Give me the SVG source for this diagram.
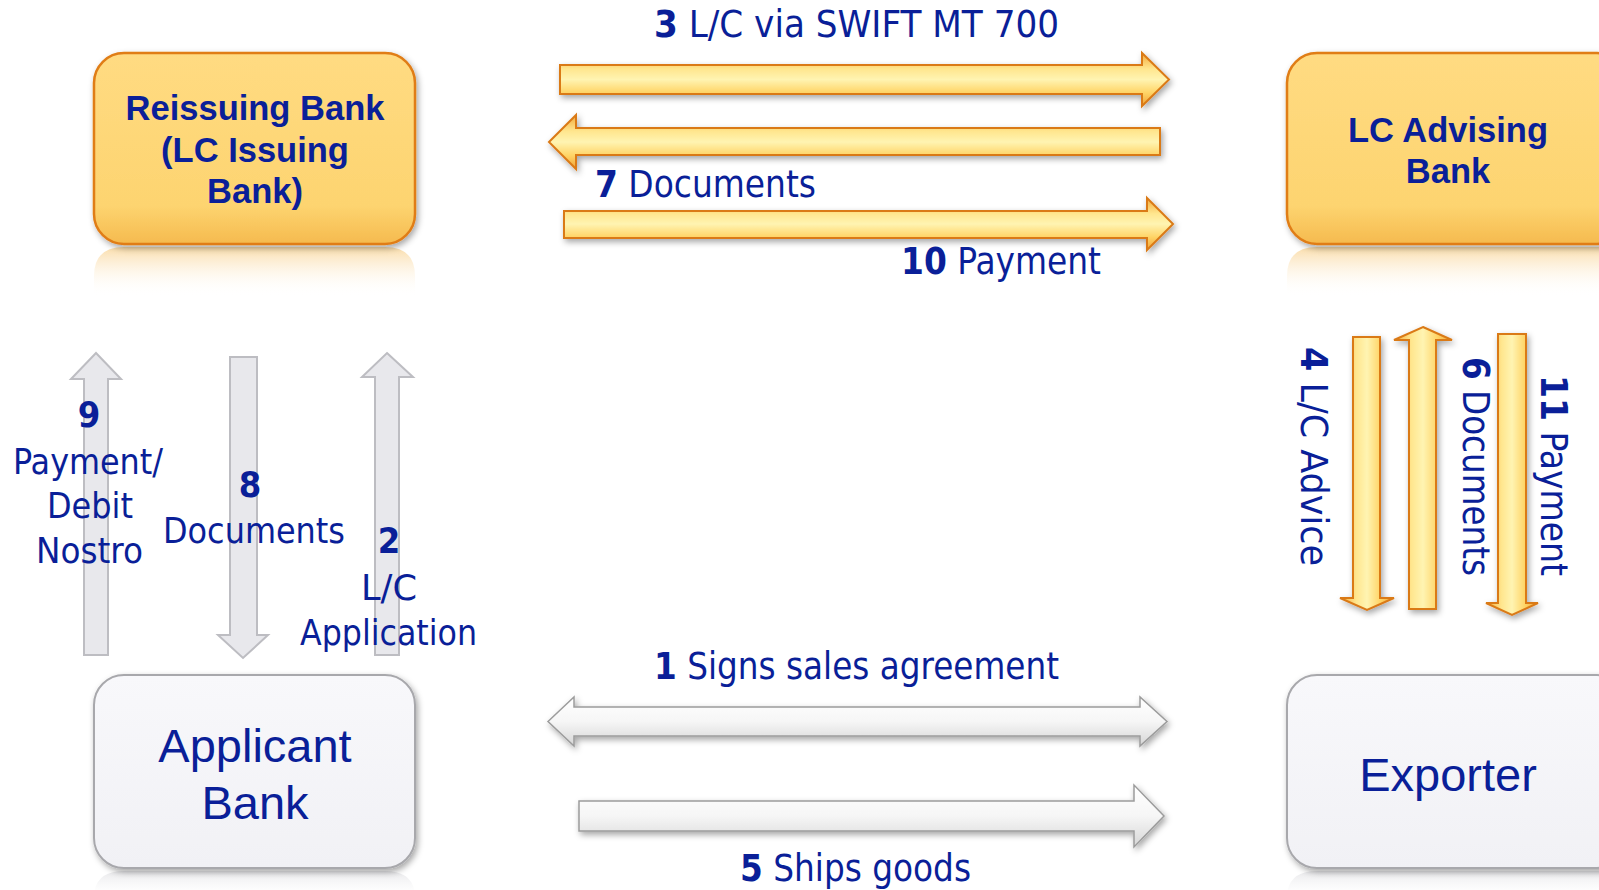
<svg xmlns="http://www.w3.org/2000/svg" width="1599" height="890" viewBox="0 0 1599 890">
<style>
.lbl{font-family:"DejaVu Sans Condensed","DejaVu Sans",sans-serif;font-size:37px;fill:#0a1f98}
.sm{font-size:36px}
.b{font-weight:bold}
.boxt{font-family:"Liberation Sans",Arial,sans-serif;fill:#0a1f98;text-anchor:middle}
.goldbox{fill:url(#goldBox);stroke:#E07D16;stroke-width:2.5}
.graybox{fill:url(#grayBox);stroke:#A8A8AC;stroke-width:2}
.ga{stroke:#DA7A18;stroke-width:2;stroke-linejoin:miter}
.wa{fill:url(#whiteH);stroke:#9C9C9C;stroke-width:1.5}
.la{fill:#E8E8EC;stroke:#BDBDC2;stroke-width:2}
</style>
<defs>
<linearGradient id="goldBox" x1="0" y1="0" x2="0" y2="1">
<stop offset="0" stop-color="#FFDB82"/>
<stop offset="0.8" stop-color="#FDD470"/>
<stop offset="1" stop-color="#F5BA4E"/>
</linearGradient>
<linearGradient id="goldRefl" x1="0" y1="0" x2="0" y2="1">
<stop offset="0" stop-color="#F7C672" stop-opacity="0.6"/>
<stop offset="1" stop-color="#FFFFFF" stop-opacity="0"/>
</linearGradient>
<linearGradient id="grayRefl" x1="0" y1="0" x2="0" y2="1">
<stop offset="0" stop-color="#D8D8DC" stop-opacity="0.6"/>
<stop offset="1" stop-color="#FFFFFF" stop-opacity="0"/>
</linearGradient>
<linearGradient id="grayBox" x1="0" y1="0" x2="0" y2="1">
<stop offset="0" stop-color="#F8F8FB"/>
<stop offset="1" stop-color="#F1F1F5"/>
</linearGradient>
<linearGradient id="goldH" x1="0" y1="0" x2="0" y2="1">
<stop offset="0" stop-color="#F3A93A"/>
<stop offset="0.3" stop-color="#FFE68E"/>
<stop offset="0.5" stop-color="#FFF4B2"/>
<stop offset="0.75" stop-color="#FFD466"/>
<stop offset="1" stop-color="#F0A236"/>
</linearGradient>
<linearGradient id="goldV" x1="0" y1="0" x2="1" y2="0">
<stop offset="0" stop-color="#F3A93A"/>
<stop offset="0.3" stop-color="#FFE68E"/>
<stop offset="0.5" stop-color="#FFF4B2"/>
<stop offset="0.75" stop-color="#FFD466"/>
<stop offset="1" stop-color="#F0A236"/>
</linearGradient>
<linearGradient id="whiteH" x1="0" y1="0" x2="0" y2="1">
<stop offset="0" stop-color="#FFFFFF"/>
<stop offset="0.5" stop-color="#F6F6F6"/>
<stop offset="1" stop-color="#D6D6D6"/>
</linearGradient>
<filter id="shadow" x="-10%" y="-10%" width="120%" height="130%">
<feDropShadow dx="2" dy="3" stdDeviation="3" flood-color="#000" flood-opacity="0.35"/>
</filter>
</defs>

<rect width="1599" height="890" fill="#FFFFFF"/>

<g id="reflections">
<path d="M94,296 V276 Q94,247 124,247 H385 Q415,247 415,276 V296 Z" fill="url(#goldRefl)"/>
<path d="M1287,296 V276 Q1287,247 1317,247 H1599 V296 Z" fill="url(#goldRefl)"/>
<path d="M94,890 V898 Q94,871 124,871 H385 Q415,871 415,898 V890 Z" fill="url(#grayRefl)"/>
<path d="M1287,890 V898 Q1287,871 1317,871 H1599 V890 Z" fill="url(#grayRefl)"/>
</g>

<g id="node-reissuing">
<rect class="goldbox" x="94" y="53" width="321" height="191" rx="30" filter="url(#shadow)"/>
<text class="boxt b" font-size="34.5"><tspan x="255" y="120">Reissuing Bank</tspan><tspan x="255" y="162">(LC Issuing</tspan><tspan x="255" y="203">Bank)</tspan></text>
</g>

<g id="node-advising">
<rect class="goldbox" x="1287" y="53" width="340" height="191" rx="30" filter="url(#shadow)"/>
<text class="boxt b" font-size="34.5"><tspan x="1448" y="142">LC Advising</tspan><tspan x="1448" y="183">Bank</tspan></text>
</g>

<g id="node-applicant">
<rect class="graybox" x="94" y="675" width="321" height="193" rx="30" filter="url(#shadow)"/>
<text class="boxt" font-size="47"><tspan x="255" y="762">Applicant</tspan><tspan x="255" y="819">Bank</tspan></text>
</g>

<g id="node-exporter">
<rect class="graybox" x="1287" y="675" width="340" height="193" rx="30" filter="url(#shadow)"/>
<text class="boxt" font-size="47" x="1448" y="791">Exporter</text>
</g>

<g id="connectors">
<g filter="url(#shadow)">
<path class="ga" fill="url(#goldH)" d="M560,65 H1142 V53 L1169,79.5 L1142,106 V94 H560 Z"/>
<path class="ga" fill="url(#goldH)" d="M549,142 L576,115 V128 H1160 V155 H576 V169 Z"/>
<path class="ga" fill="url(#goldH)" d="M564,211 H1147 V198 L1173,224 L1147,250 V238 H564 Z"/>
<path class="ga" fill="url(#goldV)" d="M1353,337 H1380 V598 H1394 L1367,610 L1340,598 H1353 Z"/>
<path class="ga" fill="url(#goldV)" d="M1423,327 L1452,340 H1436 V609 H1409 V340 H1394 Z"/>
<path class="ga" fill="url(#goldV)" d="M1498,334 H1526 V603 H1538 L1512,615 L1486,603 H1498 Z"/>
<path class="wa" d="M548,721.5 L574,697 V707 H1140 V697 L1167,721.5 L1140,746 V736 H574 V746 Z"/>
<path class="wa" d="M579,801 H1134 V785 L1164,816 L1134,847 V831 H579 Z"/>
</g>
<path class="la" d="M96,353 L121,379 H108 V655 H84 V379 H71 Z"/>
<path class="la" d="M230,357 H257 V635 H268 L243,658 L218,635 H230 Z"/>
<path class="la" d="M387,353 L413,377 H399 V655 H375 V377 H362 Z"/>
</g>

<g id="labels">
<text class="lbl" x="654" y="37" textLength="405" lengthAdjust="spacingAndGlyphs"><tspan class="b">3</tspan> L/C via SWIFT MT 700</text>
<text class="lbl" x="595" y="197" textLength="221" lengthAdjust="spacingAndGlyphs"><tspan class="b">7</tspan> Documents</text>
<text class="lbl" x="901" y="274" textLength="200" lengthAdjust="spacingAndGlyphs"><tspan class="b">10</tspan> Payment</text>
<text class="lbl" x="654" y="679" textLength="405" lengthAdjust="spacingAndGlyphs"><tspan class="b">1</tspan> Signs sales agreement</text>
<text class="lbl" x="740" y="881" textLength="231" lengthAdjust="spacingAndGlyphs"><tspan class="b">5</tspan> Ships goods</text>

<text class="lbl sm b" x="89" y="427" text-anchor="middle">9</text>
<text class="lbl sm" x="13" y="474" textLength="150" lengthAdjust="spacingAndGlyphs">Payment/</text>
<text class="lbl sm" x="47" y="518" textLength="86" lengthAdjust="spacingAndGlyphs">Debit</text>
<text class="lbl sm" x="36" y="563" textLength="107" lengthAdjust="spacingAndGlyphs">Nostro</text>

<text class="lbl sm b" x="250" y="497" text-anchor="middle">8</text>
<text class="lbl sm" x="163" y="543" textLength="182" lengthAdjust="spacingAndGlyphs">Documents</text>

<text class="lbl sm b" x="389" y="553" text-anchor="middle">2</text>
<text class="lbl sm" x="361" y="600" textLength="56" lengthAdjust="spacingAndGlyphs">L/C</text>
<text class="lbl sm" x="300" y="645" textLength="177" lengthAdjust="spacingAndGlyphs">Application</text>

<text class="lbl" transform="translate(1301,347) rotate(90)" x="0" y="0" textLength="219" lengthAdjust="spacingAndGlyphs"><tspan class="b">4</tspan> L/C Advice</text>
<text class="lbl" transform="translate(1463,357) rotate(90)" x="0" y="0" textLength="219" lengthAdjust="spacingAndGlyphs"><tspan class="b">6</tspan> Documents</text>
<text class="lbl" transform="translate(1541,375) rotate(90)" x="0" y="0" textLength="201" lengthAdjust="spacingAndGlyphs"><tspan class="b">11</tspan> Payment</text>
</g>
</svg>
